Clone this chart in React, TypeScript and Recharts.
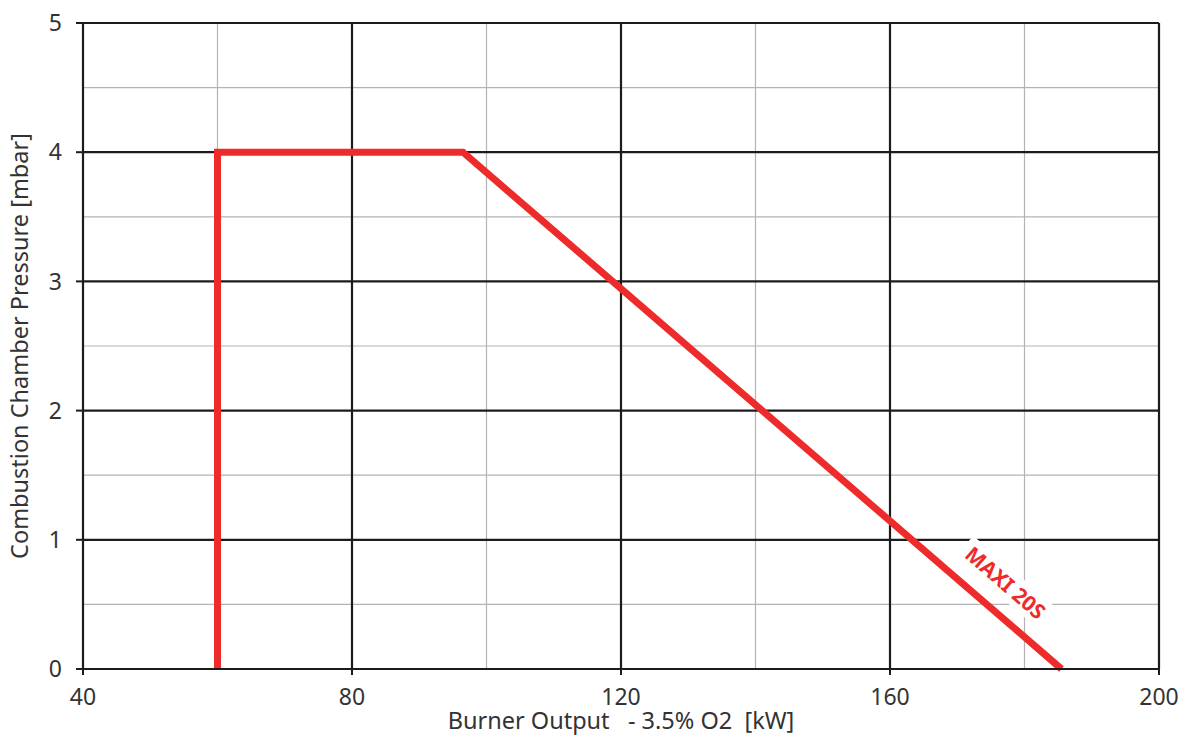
import React from "react";
import {
  LineChart,
  Line,
  XAxis,
  YAxis,
  ReferenceLine,
  ReferenceDot,
} from "recharts";

// operating envelope of the burner
const outputKw = [60, 60, 96.5, 185.5];
const pressureMbar = [0, 4, 4, 0];

const xTicks = [40, 80, 120, 160, 200];
const yTicks = [0, 1, 2, 3, 4, 5];
const xMinor = [60, 100, 140, 180];
const yMinor = [0.5, 1.5, 2.5, 3.5, 4.5];

const seriesName = "MAXI 20S";
const seriesLabelAt = { x: 177.2, y: 0.67 };

const data = outputKw.map((x, i) => ({ x, y: pressureMbar[i] }));

const RED = "#ee2b2b";
const DARK = "#1c1c1c";
const FONT = "'Noto Sans', sans-serif";

const tickStyle = { fontSize: 23, fill: "#333", fontFamily: FONT };

function SeriesTag(props: any) {
  const { cx, cy } = props;
  return (
    <g transform={`translate(${cx},${cy}) rotate(41)`}>
      <rect x={-55} y={-14} width={110} height={28} fill="#fff" />
      <text
        x={0}
        y={0}
        textAnchor="middle"
        dominantBaseline="central"
        fill={RED}
        fontSize={21}
        fontWeight={700}
        fontFamily={FONT}
      >
        {seriesName}
      </text>
    </g>
  );
}

function XTitle(props: any) {
  const { viewBox } = props;
  return (
    <text
      x={viewBox.x + viewBox.width / 2}
      y={viewBox.y + 54}
      textAnchor="middle"
      dominantBaseline="middle"
      fontSize={23.5}
      fill="#333"
      fontFamily={FONT}
      style={{ whiteSpace: "pre" }}
    >
      {"Burner Output   - 3.5% O2  [kW]"}
    </text>
  );
}

function YTitle(props: any) {
  const { viewBox } = props;
  const x = viewBox.x + 22;
  const y = viewBox.y + viewBox.height / 2;
  return (
    <text
      x={x}
      y={y}
      transform={`rotate(-90 ${x} ${y})`}
      textAnchor="middle"
      dominantBaseline="middle"
      fontSize={23.5}
      fill="#333"
      fontFamily={FONT}
    >
      Combustion Chamber Pressure [mbar]
    </text>
  );
}

export default function App() {
  return (
    <div style={{ position: "absolute", left: 0, top: 0, background: "#fff" }}>
      <LineChart
        width={1193}
        height={738}
        data={data}
        margin={{ top: 23, right: 34, bottom: 0, left: 0 }}
      >
        <XAxis
          dataKey="x"
          type="number"
          domain={[40, 200]}
          ticks={xTicks}
          interval={0}
          height={69}
          tick={tickStyle}
          tickSize={6}
          tickMargin={14}
          stroke={DARK}
          strokeWidth={2}
          label={<XTitle />}
        />
        <YAxis
          type="number"
          domain={[0, 5]}
          ticks={yTicks}
          interval={0}
          width={83}
          tick={tickStyle}
          tickSize={7}
          tickMargin={14}
          stroke={DARK}
          strokeWidth={2}
          label={<YTitle />}
        />
        {xMinor.map((v) => (
          <ReferenceLine key={`xm${v}`} x={v} stroke="#b3b3b3" strokeWidth={1.2} />
        ))}
        {yMinor.map((v) => (
          <ReferenceLine key={`ym${v}`} y={v} stroke="#b3b3b3" strokeWidth={1.2} />
        ))}
        {xTicks.map((v) => (
          <ReferenceLine key={`xM${v}`} x={v} stroke={DARK} strokeWidth={2.2} />
        ))}
        {yTicks.map((v) => (
          <ReferenceLine key={`yM${v}`} y={v} stroke={DARK} strokeWidth={2.2} />
        ))}
        <Line
          dataKey="y"
          stroke={RED}
          strokeWidth={7}
          strokeLinejoin="miter"
          strokeLinecap="butt"
          dot={false}
          activeDot={false}
          type="linear"
          isAnimationActive={false}
        />
        <ReferenceDot
          x={seriesLabelAt.x}
          y={seriesLabelAt.y}
          r={0}
          shape={<SeriesTag />}
        />
      </LineChart>
    </div>
  );
}
